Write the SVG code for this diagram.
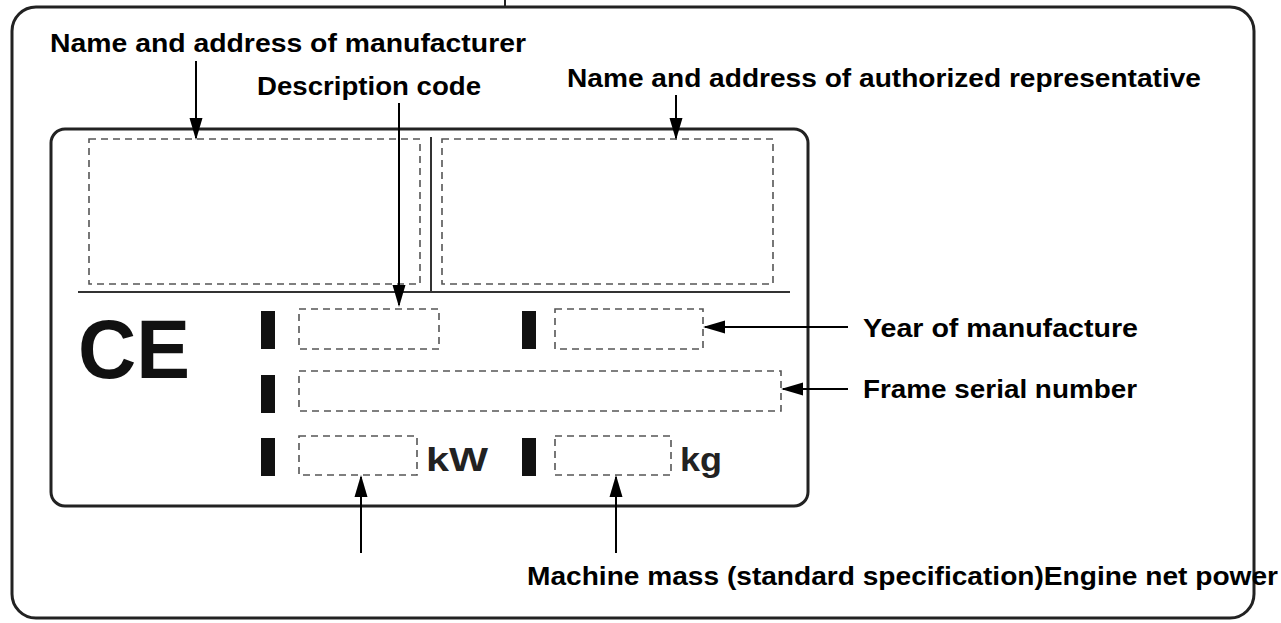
<svg xmlns="http://www.w3.org/2000/svg" width="1281" height="623" viewBox="0 0 1281 623">
<defs>
<marker id="ah" markerWidth="22" markerHeight="14" refX="20" refY="7" orient="auto" markerUnits="userSpaceOnUse" viewBox="0 0 22 14"><path d="M0,0.5 L22,7 L0,13.5 Z" fill="#000"/></marker>
<style>
.frame{fill:none;stroke:#222;stroke-width:3}
.thin{fill:none;stroke:#333;stroke-width:2}
.dash{fill:none;stroke:#555;stroke-width:1.6;stroke-dasharray:7,5}
.bar{fill:#111}
.lbl{font-family:"Liberation Sans",Arial,sans-serif;font-weight:bold;font-size:25px;fill:#000}
.unit{font-family:"Liberation Sans",Arial,sans-serif;font-weight:bold;font-size:34px;fill:#222}
.con{stroke:#000;stroke-width:2;fill:none;marker-end:url(#ah)}
</style>
</defs>
<g id="outer">
<rect class="frame" x="12" y="7" width="1242" height="611" rx="24"/>
<line x1="505" y1="0" x2="505" y2="7" stroke="#222" stroke-width="2"/>
</g>
<g id="plate">
<rect class="frame" x="51" y="129" width="757" height="377" rx="14"/>
<line class="thin" x1="78" y1="292" x2="790" y2="292"/>
<line class="thin" x1="431" y1="137" x2="431" y2="292"/>
<text x="78" y="378" font-family="'Liberation Sans',Arial,sans-serif" font-weight="bold" font-size="84" fill="#111" textLength="112" lengthAdjust="spacingAndGlyphs">CE</text>
</g>
<g id="manufacturer-box"><rect class="dash" x="89" y="139" width="331" height="145"/></g>
<g id="representative-box"><rect class="dash" x="442" y="139" width="331" height="145"/></g>
<g id="description-field"><rect class="bar" x="261" y="311" width="14" height="38"/><rect class="dash" x="299" y="309" width="140" height="40"/></g>
<g id="year-field"><rect class="bar" x="522" y="311" width="14" height="38"/><rect class="dash" x="555" y="309" width="148" height="40"/></g>
<g id="serial-field"><rect class="bar" x="261" y="375" width="14" height="38"/><rect class="dash" x="299" y="371" width="482" height="40"/></g>
<g id="power-field"><rect class="bar" x="261" y="438" width="14" height="38"/><rect class="dash" x="299" y="436" width="118" height="39"/><text class="unit" x="426" y="471" textLength="62" lengthAdjust="spacingAndGlyphs">kW</text></g>
<g id="mass-field"><rect class="bar" x="522" y="438" width="14" height="38"/><rect class="dash" x="555" y="436" width="116" height="39"/><text class="unit" x="680" y="471" textLength="42" lengthAdjust="spacingAndGlyphs">kg</text></g>
<g id="labels">
<text class="lbl" x="50" y="52" textLength="476" lengthAdjust="spacingAndGlyphs">Name and address of manufacturer</text>
<text class="lbl" x="257" y="95" textLength="224" lengthAdjust="spacingAndGlyphs">Description code</text>
<text class="lbl" x="567" y="87" textLength="634" lengthAdjust="spacingAndGlyphs">Name and address of authorized representative</text>
<text class="lbl" x="863" y="337" textLength="275" lengthAdjust="spacingAndGlyphs">Year of manufacture</text>
<text class="lbl" x="863" y="398" textLength="274" lengthAdjust="spacingAndGlyphs">Frame serial number</text>
<text class="lbl" x="527" y="585" textLength="751" lengthAdjust="spacingAndGlyphs">Machine mass (standard specification)Engine net power</text>
</g>
<g id="connectors">
<line class="con" x1="196" y1="61" x2="196" y2="138"/>
<line class="con" x1="399" y1="103" x2="399" y2="305"/>
<line class="con" x1="676" y1="95" x2="676" y2="138"/>
<line class="con" x1="848" y1="327" x2="705" y2="327"/>
<line class="con" x1="848" y1="389" x2="783" y2="389"/>
<line class="con" x1="361" y1="553" x2="361" y2="477"/>
<line class="con" x1="616" y1="553" x2="616" y2="477"/>
</g>
</svg>
